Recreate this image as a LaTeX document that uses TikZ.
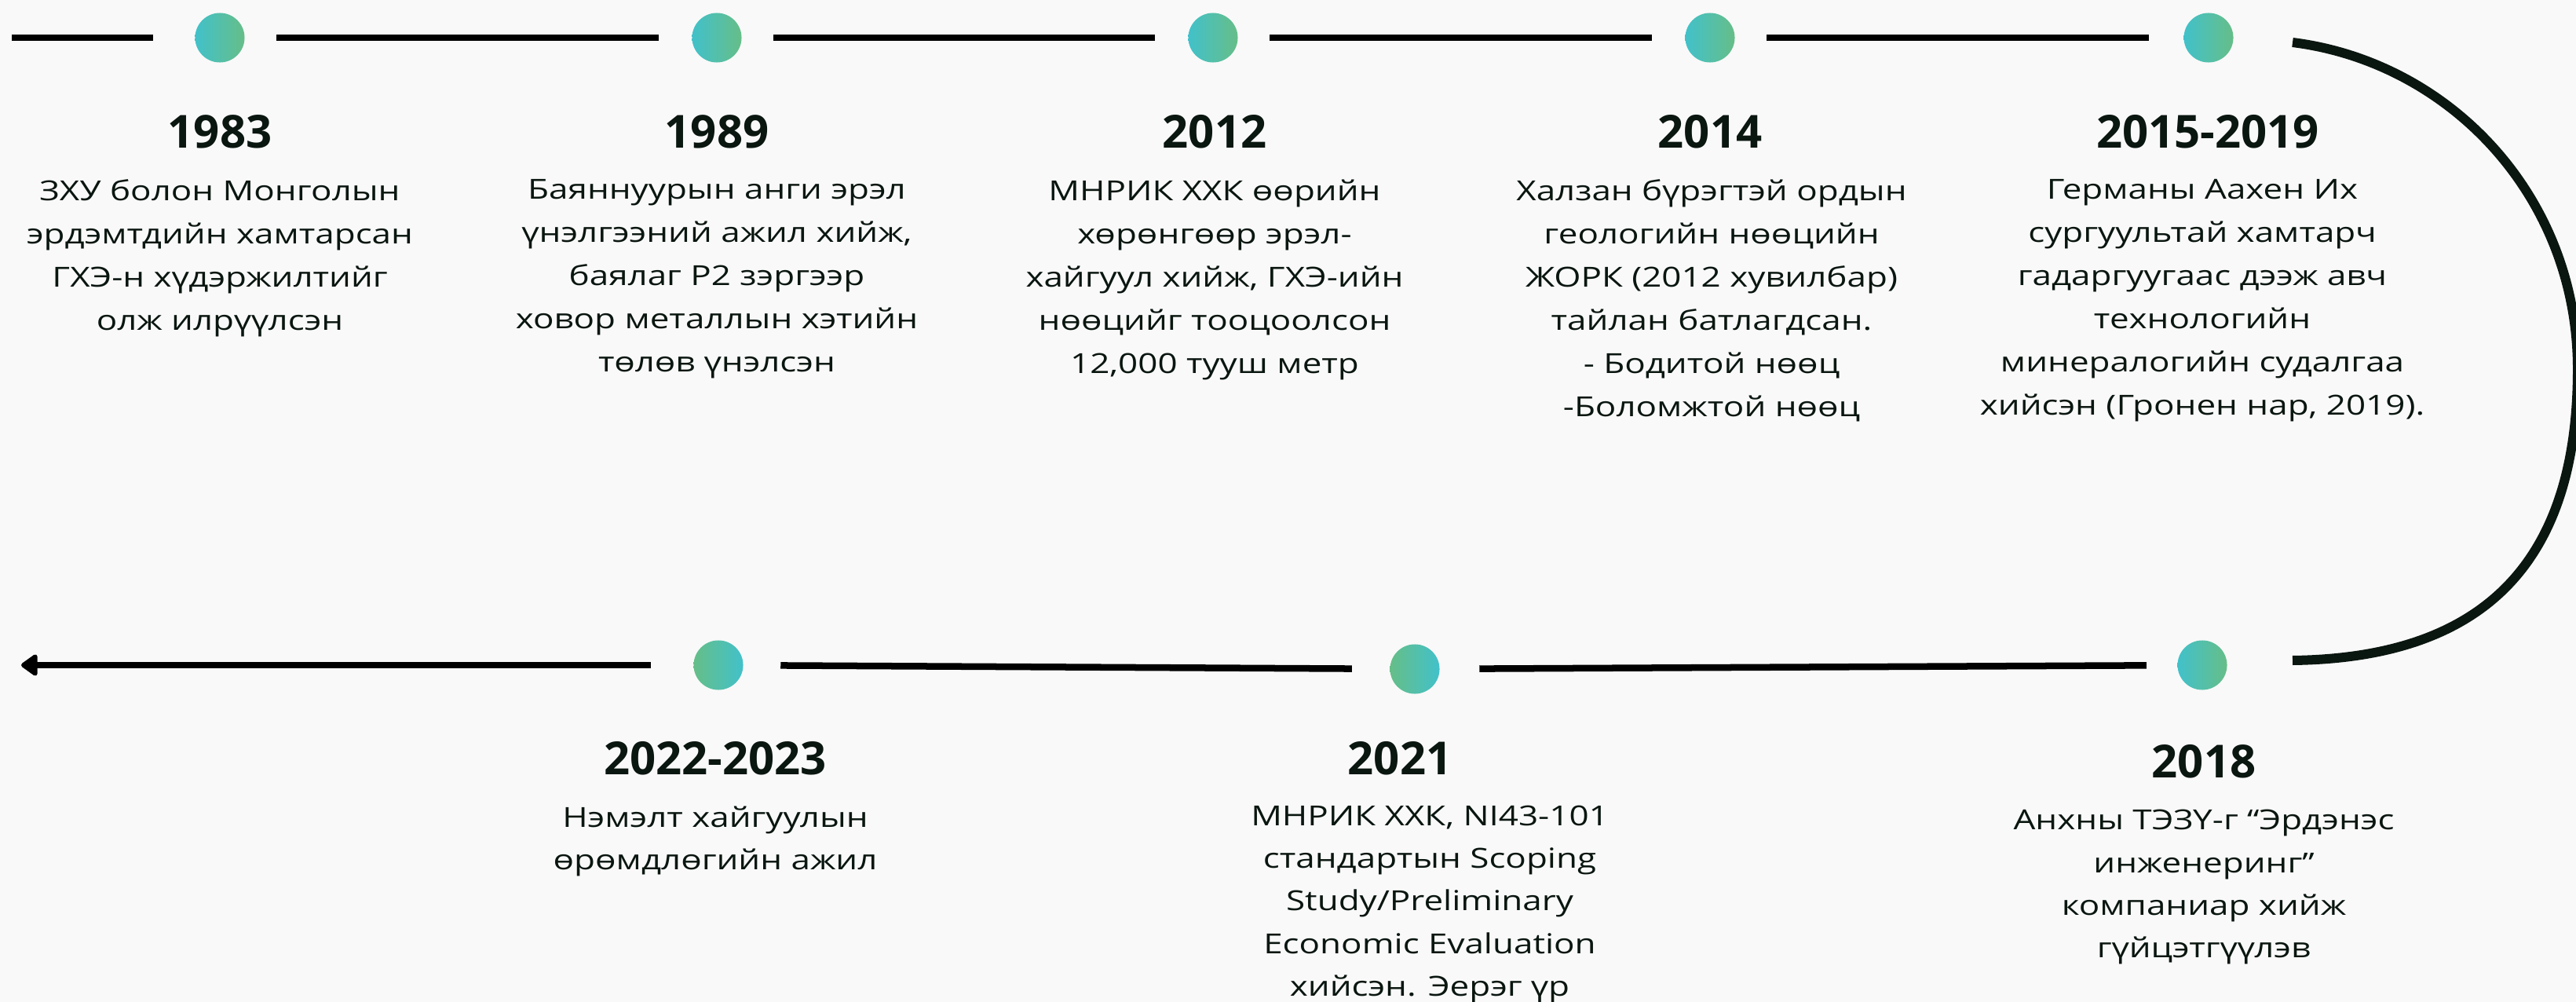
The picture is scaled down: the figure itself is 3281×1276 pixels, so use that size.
\documentclass[tikz,border=0pt]{standalone}
\usepackage{fontspec}
\setmainfont{Open Sans}
\newfontfamily\bodyfont[FakeStretch=1.25]{Open Sans}
\newfontfamily\yearfont{Open Sans}
\usetikzlibrary{arrows.meta}
\definecolor{bg}{HTML}{F9F9F9}
\definecolor{ink}{HTML}{0A1610}
\definecolor{tealc}{HTML}{42C1CA}
\definecolor{greenc}{HTML}{66BE88}
\begin{document}
\begin{tikzpicture}[x=0.01cm,y=-0.01cm,
  dot/.style={circle,minimum size=0.63cm,inner sep=0pt,draw=none,left color=tealc,right color=greenc},
  dotrev/.style={dot,left color=greenc,right color=tealc},
  tline/.style={line width=0.08cm,black,shorten <=0.40cm,shorten >=0.42cm},
  bline/.style={line width=0.085cm,black},
  arcline/.style={line width=0.12cm,ink},
  year/.style={font=\yearfont\bfseries\fontsize{16.5}{20}\selectfont,text=ink,anchor=base,inner sep=0pt},
  body/.style={font=\bodyfont\fontsize{10}{15.65}\selectfont,text=ink,align=center,anchor=north,inner sep=0pt,
    execute at begin node={\rule{0pt}{12pt}}},
  bodyb/.style={body,font=\bodyfont\fontsize{10}{15.45}\selectfont},
]
\fill[bg] (0,0) rectangle (3281,1276);
\useasboundingbox (0,0) rectangle (3281,1276);
\clip (0,0) rectangle (3281,1276);

% dots
\node[dot] (d1) at (280,48) {};
\node[dot] (d2) at (913,48) {};
\node[dot] (d3) at (1545,48) {};
\node[dot] (d4) at (2178,48) {};
\node[dot] (d5) at (2813,48) {};
\node[dot] (d6) at (2805,847) {};
\node[dotrev] (d7) at (1802,852) {};
\node[dotrev] (d8) at (915,847) {};

% connectors
\coordinate (lstart) at (15,48);
\draw[tline,shorten <=0pt,shorten >=0.53cm] (lstart) -- (d1);
\draw[tline] (d1) -- (d2);
\draw[tline] (d2) -- (d3);
\draw[tline] (d3) -- (d4);
\draw[tline,shorten >=0.44cm] (d4) -- (d5);
\coordinate (arcS) at (2920,54);
\coordinate (arcM) at (3283,470);
\coordinate (arcE) at (2920,841);
\draw[arcline] (arcS) .. controls (3120,79) and (3283,250) .. (arcM)
  .. controls (3283,720) and (3160,838) .. (arcE);
\draw[bline,shorten <=0.39cm,shorten >=0.50cm] (d6) -- (d7);
\draw[bline,shorten <=0.48cm,shorten >=0.47cm] (d7) -- (d8);
\coordinate (aend) at (27,847);
\draw[bline,shorten <=0.54cm,-{Triangle[length=0.23cm,width=0.31cm,round]}] (d8) -- (aend);

% years
\node[year] (y1) at (280,189) {1983};
\node[year] (y2) at (913,189) {1989};
\node[year] (y3) at (1547,189) {2012};
\node[year] (y4) at (2178,189) {2014};
\node[year] (y5) at (2812,189) {2015-2019};
\node[year] (y6) at (2807,990) {2018};
\node[year] (y7) at (1783,986) {2021};
\node[year] (y8) at (911,986) {2022-2023};

% descriptions
\node[body] (t1) at (280,227.8) {ЗХУ болон Монголын\\эрдэмтдийн хамтарсан\\ГХЭ-н хүдэржилтийг\\олж илрүүлсэн};
\node[body] (t2) at (913,227.8) {Баяннуурын анги эрэл\\үнэлгээний ажил хийж,\\баялаг P2 зэргээр\\ховор металлын хэтийн\\төлөв үнэлсэн};
\node[body] (t3) at (1547,227.8) {МНРИК ХХК өөрийн\\хөрөнгөөр эрэл-\\хайгуул хийж, ГХЭ-ийн\\нөөцийг тооцоолсон\\12,000 тууш метр};
\node[body] (t4) at (2180,227.8) {Халзан бүрэгтэй ордын\\геологийн нөөцийн\\ЖОРК (2012 хувилбар)\\тайлан батлагдсан.\\- Бодитой нөөц\\-Боломжтой нөөц};
\node[body] (t5) at (2805,227.8) {Германы Аахен Их\\сургуультай хамтарч\\гадаргуугаас дээж авч\\технологийн\\минералогийн судалгаа\\хийсэн (Гронен нар, 2019).};
\node[bodyb] (t6) at (2807,1030.8) {Анхны ТЭЗҮ-г “Эрдэнэс\\инженеринг”\\компаниар хийж\\гүйцэтгүүлэв};
\node[bodyb] (t7) at (1821,1024.8) {МНРИК ХХК, NI43-101\\стандартын Scoping\\Study/Preliminary\\Economic Evaluation\\хийсэн. Эерэг үр};
\node[bodyb] (t8) at (911,1025.8) {Нэмэлт хайгуулын\\өрөмдлөгийн ажил};
\end{tikzpicture}
\end{document}
